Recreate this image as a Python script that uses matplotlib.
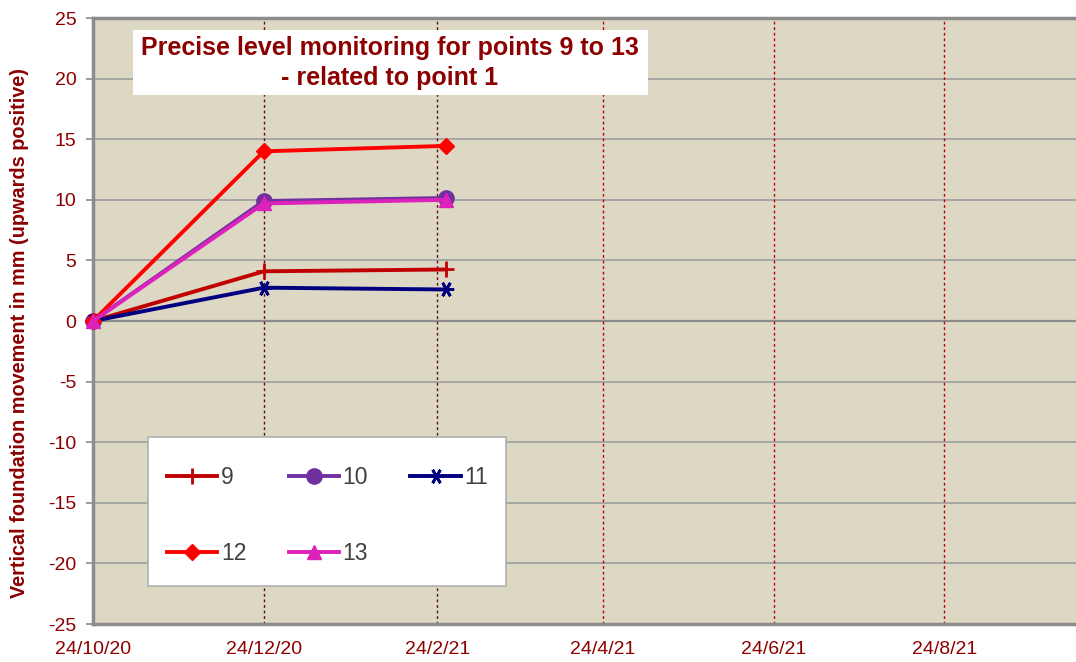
#!/usr/bin/env python3

import datetime as dt
import matplotlib
matplotlib.use("Agg")
import matplotlib.pyplot as plt
from matplotlib.patches import Rectangle

# Survey dates and point readings (mm)
survey_dates = [dt.date(2020, 10, 24), dt.date(2020, 12, 24), dt.date(2021, 2, 27)]
point_9 = [0.0, 4.1, 4.25]
point_10 = [0.0, 9.9, 10.15]
point_11 = [0.0, 2.75, 2.6]
point_12 = [0.0, 14.0, 14.45]
point_13 = [0.0, 9.7, 10.0]

# Axis ticks
tick_dates = [dt.date(2020, 10, 24), dt.date(2020, 12, 24), dt.date(2021, 2, 24),
              dt.date(2021, 4, 24), dt.date(2021, 6, 24), dt.date(2021, 8, 24)]
tick_labels = ["24/10/20", "24/12/20", "24/2/21", "24/4/21", "24/6/21", "24/8/21"]
y_ticks = list(range(-25, 30, 5))

DARK_RED = "#8C0000"


def main():
    plt.rcParams["font.family"] = ["Liberation Sans", "DejaVu Sans"]
    plt.rcParams["axes.unicode_minus"] = False

    fig = plt.figure(figsize=(10.76, 6.62), dpi=100)
    ax = fig.add_axes([0.0864, 0.0574, 0.9136, 0.9154])
    ax.set_facecolor("#DDD8C3")

    # horizontal grid
    for y in y_ticks:
        ax.axhline(y, color="#A6A6A6", lw=1.4, zorder=1)
    ax.axhline(0, color="#8C8C8C", lw=1.6, zorder=1.2)

    # vertical dotted lines, first two measurement lines darker
    for i, d in enumerate(tick_dates[1:]):
        col = "#5A1010" if i < 2 else "#C00000"
        ax.axvline(d, color=col, lw=1.0, ls=(0, (2, 2)), zorder=1.5)

    series = {
        "9": (point_9, "#C00000", "+", 12),
        "10": (point_10, "#7030A0", "o", 11),
        "11": (point_11, "#000080", (6, 2, 90), 11),
        "12": (point_12, "#FF0000", "D", 8),
        "13": (point_13, "#DD22BB", "^", 10.5),
    }
    handles = {}
    for name, (vals, col, mk, ms) in series.items():
        thin = mk == "+" or isinstance(mk, tuple)
        h, = ax.plot(survey_dates, vals, color=col, lw=2.8, marker=mk,
                     markersize=ms, markeredgewidth=2 if thin else 1,
                     markerfacecolor=col, markeredgecolor=col, label=name,
                     zorder=3, clip_on=False)
        handles[name] = h

    ax.set_xlim(dt.date(2020, 10, 24), dt.date(2021, 10, 10))
    ax.set_ylim(-25, 25)
    ax.set_xticks(tick_dates)
    ax.set_xticklabels(tick_labels)
    ax.set_yticks(y_ticks)
    ax.tick_params(axis="x", length=0, pad=12, labelsize=14, labelcolor=DARK_RED)
    ax.tick_params(axis="y", length=5, width=1.2, color="#8C8C8C", pad=7,
                   labelsize=14, labelcolor=DARK_RED)

    for side in ("top", "left", "bottom"):
        ax.spines[side].set_color("#8C8C8C")
        ax.spines[side].set_linewidth(2.5)
    ax.spines["right"].set_visible(False)

    ax.set_ylabel("Vertical foundation movement in mm (upwards positive)",
                  fontsize=14.3, fontweight="bold", color=DARK_RED)
    ax.yaxis.set_label_coords(-0.065, 0.48)

    # title box
    ax.add_patch(Rectangle((0.0407, 0.873), 0.524, 0.1073, transform=ax.transAxes,
                           facecolor="white", edgecolor="none", zorder=4))
    ax.text(0.302, 0.925, "Precise level monitoring for points 9 to 13\n- related to point 1",
            transform=ax.transAxes, ha="center", va="center", fontsize=18,
            fontweight="bold", color=DARK_RED, linespacing=1.32, zorder=5)

    # legend box, row order 9 10 11 / 12 13
    ax.add_patch(Rectangle((0.056, 0.0627), 0.3642, 0.2459, transform=ax.transAxes,
                           facecolor="white", edgecolor="#B0B0B0", lw=1.2, zorder=4))
    order = ["9", "12", "10", "13", "11"]
    leg = ax.legend(handles=[handles[k] for k in order], ncol=3, loc="upper left",
                    bbox_to_anchor=(0.0753, 0.261), frameon=False,
                    fontsize=16.5, labelspacing=2.3, columnspacing=1.85,
                    handlelength=2.2, handletextpad=0.15, borderpad=0,
                    borderaxespad=0)
    leg.set_zorder(6)
    for t in leg.get_texts():
        t.set_color("#404040")

    fig.savefig("out.png", dpi=100)
    plt.close(fig)


if __name__ == "__main__":
    main()
